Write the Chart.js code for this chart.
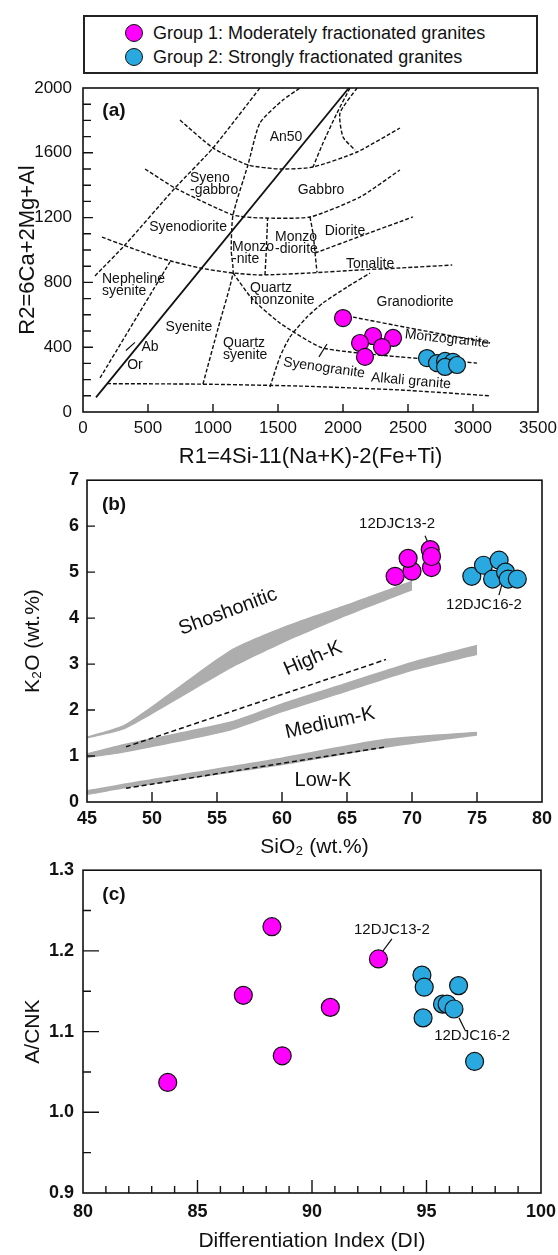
<!DOCTYPE html>
<html>
<head>
<meta charset="utf-8">
<title>Granite classification diagrams</title>
<script src="https://cdn.jsdelivr.net/npm/chart.js@4.4.1/dist/chart.umd.min.js"></script>
<style>
  body { margin: 0; background: #fff; font-family: "Liberation Sans", Arial, sans-serif; }
  #page { position: relative; width: 558px; height: 1255px; overflow: hidden; }
  canvas { position: absolute; left: 0; }
  #legend { position: absolute; left: 83px; top: 15px; width: 455px; height: 59px; box-sizing: border-box; border: 2px solid #222; }
  .item { position: absolute; left: 40px; height: 20px; font-size: 18px; line-height: 20px; color: #111; white-space: nowrap; }
  .dot { display: inline-block; width: 18px; height: 18px; border-radius: 50%; border: 1.3px solid #111; box-sizing: border-box; vertical-align: -3px; margin-right: 10px; }
</style>
</head>
<body>
<div id="page">
  <div id="legend">
    <div class="item" style="top:6px"><span class="dot" style="background:#FF00FF"></span>Group 1: Moderately fractionated granites</div>
    <div class="item" style="top:30px"><span class="dot" style="background:#29A9E0"></span>Group 2: Strongly fractionated granites</div>
  </div>
  <canvas id="chartA" width="558" height="395" style="top:75px"></canvas>
  <canvas id="chartB" width="558" height="390" style="top:470px"></canvas>
  <canvas id="chartC" width="558" height="395" style="top:860px"></canvas>
</div>
<script>
// ---------- (a) R1-R2 diagram ----------
const r1Group1 = [2000, 2231, 2385, 2131, 2300, 2169];
const r2Group1 = [580, 469, 457, 426, 401, 340];
const r1Group2 = [2646, 2723, 2785, 2846, 2785, 2877];
const r2Group2 = [333, 302, 315, 309, 278, 290];

// field boundaries, [R1, R2]
const bndSolid = [[100, 90], [2045, 2000]];
const bndBase = [[185, 175], [900, 172], [1670, 160], [2440, 136], [3130, 100]];
const bndNephUpper = [[92, 840], [323, 1031], [708, 1383], [1000, 1630], [1361, 2000]];
const bndNephRight = [[131, 210], [669, 926]];
const bndGabbroTop = [[746, 1802], [1000, 1630], [1269, 1525], [1515, 1500], [1769, 1512], [2108, 1605], [2438, 1753]];
const bndGabbroBase = [[477, 1500], [708, 1383], [1154, 1216], [1361, 1198], [1746, 1204], [2131, 1327], [2438, 1494]];
const bndMonzoBase = [[146, 1080], [308, 1031], [592, 950], [900, 889], [1154, 858], [1361, 846], [1746, 858], [2131, 877], [2438, 889], [2840, 907]];
const bndSyeniteRight = [[923, 173], [1040, 520], [1154, 858], [1140, 1000], [1154, 1216], [1269, 1525], [1361, 1784], [1538, 1926], [1669, 2000]];
const bndAn50Right = [[2054, 2000], [1954, 1846], [1846, 1660], [1769, 1512]];
const bndTopCurve = [[2108, 2000], [1977, 1846], [2000, 1698], [2092, 1617]];
const bndMonzoniteRight = [[1400, 846], [1410, 1000], [1420, 1198]];
const bndMonzodioriteRight = [[1746, 1204], [1770, 1100], [1785, 981], [1800, 862]];
const bndDioriteBase = [[1785, 981], [2150, 1090], [2538, 1204]];
const bndQzSyeniteTop = [[1154, 858], [1300, 700], [1515, 549], [1823, 401], [2054, 370], [2438, 340], [3031, 302]];
const bndGranodioriteLeft = [[1438, 154], [1515, 340], [1592, 463], [1723, 586], [1846, 673], [2031, 771], [2208, 858]];
const bndGranodioriteBase = [[2077, 586], [2500, 520], [3131, 426]];
const bndTick = [[1877, 420], [1815, 340]];
const bndAbMark = [[330, 380], [400, 430]];

// ---------- (b) K2O vs SiO2 ----------
const sio2Group1 = [68.7, 70.0, 69.7, 71.4, 71.5, 71.5];
const k2oGroup1 = [4.91, 5.02, 5.30, 5.49, 5.10, 5.34];
const sio2Group2 = [74.6, 75.5, 76.2, 76.7, 77.2, 77.4, 78.1];
const k2oGroup2 = [4.91, 5.15, 4.85, 5.26, 5.00, 4.85, 4.85];

const bandLowSi = [45, 48, 60, 68, 75];
const bandLowTop = [0.26, 0.41, 0.97, 1.38, 1.53];
const bandLowBot = [0.15, 0.30, 0.80, 1.18, 1.44];
const bandMidSi = [45, 48, 56, 60, 65, 70, 75];
const bandMidTop = [1.06, 1.27, 1.75, 2.15, 2.60, 3.05, 3.42];
const bandMidBot = [0.95, 1.08, 1.55, 1.95, 2.40, 2.85, 3.20];
const bandHighSi = [45, 48, 56, 60, 65, 70];
const bandHighTop = [1.42, 1.70, 3.30, 3.80, 4.30, 4.82];
const bandHighBot = [1.38, 1.60, 2.90, 3.45, 4.05, 4.60];
const dashHighK = [[48, 1.2], [68, 3.1]];
const dashLowK = [[48, 0.3], [68, 1.2]];

// ---------- (c) A/CNK vs DI ----------
const diGroup1 = [83.7, 87.0, 88.25, 88.7, 90.8, 92.9];
const acnkGroup1 = [1.037, 1.145, 1.23, 1.07, 1.13, 1.19];
const diGroup2 = [94.8, 94.9, 96.4, 95.7, 95.9, 96.2, 94.85, 97.1];
const acnkGroup2 = [1.170, 1.155, 1.157, 1.134, 1.134, 1.128, 1.117, 1.063];

const MAGENTA = '#FF00FF';
const BLUE = '#29A9E0';
const FONT = '"Liberation Sans", Arial, sans-serif';

const xy = (xs, ys) => xs.map((x, i) => ({x: x, y: ys[i]}));
const pairs = arr => arr.map(p => ({x: p[0], y: p[1]}));

function dashed(arr, dash, width) {
  return {type: 'line', data: pairs(arr), showLine: true, pointRadius: 0, borderColor: '#111',
    borderWidth: width || 1.4, borderDash: dash || [4, 2], tension: 0.2, fill: false, order: 5};
}
function solid(arr, width) {
  return {type: 'line', data: pairs(arr), showLine: true, pointRadius: 0, borderColor: '#111',
    borderWidth: width || 1.4, tension: 0, fill: false, order: 4};
}
function points(xs, ys, color, r) {
  return {data: xy(xs, ys), pointRadius: r, pointBackgroundColor: color, pointBorderColor: '#111',
    pointBorderWidth: 1.2, showLine: false, order: 0};
}
function band(xs, top, bot) {
  return [
    {type: 'line', data: xy(xs, top), showLine: true, pointRadius: 0, borderWidth: 0, borderColor: 'rgba(0,0,0,0)',
      backgroundColor: '#ADADAD', fill: '+1', tension: 0.2, order: 6},
    {type: 'line', data: xy(xs, bot), showLine: true, pointRadius: 0, borderWidth: 0, borderColor: 'rgba(0,0,0,0)',
      fill: false, tension: 0.2, order: 6}
  ];
}

// box + inward ticks
function framePlugin(o) {
  return {
    id: 'frame',
    afterDatasetsDraw(chart) {
      const {ctx, chartArea: a, scales: {x, y}} = chart;
      ctx.save();
      ctx.strokeStyle = '#111';
      ctx.lineWidth = 1.6;
      ctx.strokeRect(a.left, a.top, a.right - a.left, a.bottom - a.top);
      ctx.lineWidth = 1.4;
      ctx.beginPath();
      const nx = Math.round((x.max - x.min) / o.xMinor);
      for (let i = 1; i < nx; i++) {
        const v = x.min + i * o.xMinor;
        const major = Math.abs(v / o.xMajor - Math.round(v / o.xMajor)) < 1e-6;
        const px = x.getPixelForValue(v);
        ctx.moveTo(px, a.bottom);
        ctx.lineTo(px, a.bottom - (major ? o.xMajorLen : o.xMinorLen));
      }
      const ny = Math.round((y.max - y.min) / o.yMinor);
      for (let i = 1; i < ny; i++) {
        const v = y.min + i * o.yMinor;
        const major = Math.abs(v / o.yMajor - Math.round(v / o.yMajor)) < 1e-6;
        const py = y.getPixelForValue(v);
        ctx.moveTo(a.left, py);
        ctx.lineTo(a.left + (major ? o.yMajorLen : o.yMinorLen), py);
      }
      ctx.stroke();
      ctx.restore();
    }
  };
}

// text labels placed in data units
function textPlugin(items, defSize) {
  return {
    id: 'texts',
    afterDatasetsDraw(chart) {
      const {ctx, scales: {x, y}} = chart;
      ctx.save();
      ctx.fillStyle = '#111';
      items.forEach(it => {
        const size = it.size || defSize;
        ctx.font = (it.bold ? 'bold ' : '') + size + 'px ' + FONT;
        ctx.textAlign = it.align || 'center';
        ctx.textBaseline = 'middle';
        const lines = Array.isArray(it.t) ? it.t : [it.t];
        const lh = size * 0.9;
        ctx.save();
        ctx.translate(x.getPixelForValue(it.x), y.getPixelForValue(it.y));
        ctx.rotate((it.rot || 0) * Math.PI / 180);
        lines.forEach((s, i) => ctx.fillText(s, 0, (i - (lines.length - 1) / 2) * lh));
        ctx.restore();
      });
      ctx.restore();
    }
  };
}

function fixBox(w, h) {
  return function (s) {
    if (w !== null) s.width = w;
    if (h !== null) s.height = h;
    s.paddingLeft = 0; s.paddingRight = 0; s.paddingTop = 0; s.paddingBottom = 0;
  };
}

Chart.defaults.font.family = FONT;
Chart.defaults.color = '#111';
Chart.defaults.animation = false;

const labelsA = [
  {t: '(a)', x: 238, y: 1858, bold: true, size: 19},
  {t: 'An50', x: 1562, y: 1698},
  {t: ['Syeno', '-gabbro'], x: 823, y: 1407, align: 'left'},
  {t: 'Gabbro', x: 1831, y: 1370},
  {t: 'Syenodiorite', x: 808, y: 1142},
  {t: 'Diorite', x: 2015, y: 1117},
  {t: ['Monzo', '-diorite'], x: 1477, y: 1043, align: 'left'},
  {t: ['Monzo', '-nite'], x: 1146, y: 981, align: 'left'},
  {t: 'Tonalite', x: 2208, y: 910},
  {t: ['Nepheline', 'syenite'], x: 146, y: 784, align: 'left'},
  {t: ['Quartz', 'monzonite'], x: 1285, y: 728, align: 'left'},
  {t: 'Granodiorite', x: 2554, y: 679},
  {t: 'Syenite', x: 815, y: 525},
  {t: ['Quartz', 'syenite'], x: 1077, y: 389, align: 'left'},
  {t: 'Ab', x: 515, y: 401},
  {t: 'Or', x: 400, y: 290},
  {t: 'Monzogranite', x: 2800, y: 451, rot: 6},
  {t: 'Syenogranite', x: 1854, y: 272, rot: 8},
  {t: 'Alkali granite', x: 2523, y: 191, rot: 5}
];

new Chart(document.getElementById('chartA'), {
  type: 'scatter',
  data: {
    datasets: [
      points(r1Group1, r2Group1, MAGENTA, 8.5),
      points(r1Group2, r2Group2, BLUE, 8.5),
      solid(bndSolid, 1.8),
      solid(bndTick, 1.2),
      solid(bndAbMark, 1.2),
      dashed(bndBase), dashed(bndNephUpper), dashed(bndNephRight), dashed(bndGabbroTop),
      dashed(bndGabbroBase), dashed(bndMonzoBase), dashed(bndSyeniteRight), dashed(bndAn50Right),
      dashed(bndTopCurve), dashed(bndMonzoniteRight), dashed(bndMonzodioriteRight), dashed(bndDioriteBase),
      dashed(bndQzSyeniteTop), dashed(bndGranodioriteLeft), dashed(bndGranodioriteBase)
    ]
  },
  options: {
    responsive: false,
    layout: {padding: {top: 13, right: 20, left: 0, bottom: 0}},
    plugins: {legend: {display: false}, tooltip: {enabled: false}},
    scales: {
      x: {
        min: 0, max: 3500,
        ticks: {stepSize: 500, padding: 6, font: {size: 17}, callback: v => String(v)},
        grid: {display: false, drawTicks: false}, border: {display: false},
        title: {display: true, text: 'R1=4Si-11(Na+K)-2(Fe+Ti)', font: {size: 22, lineHeight: 1}, padding: {top: 0, bottom: 2}},
        afterFit: fixBox(null, 58)
      },
      y: {
        min: 0, max: 2000,
        ticks: {stepSize: 400, padding: 11, font: {size: 17}, callback: v => String(v)},
        grid: {display: false, drawTicks: false}, border: {display: false},
        title: {display: true, text: 'R2=6Ca+2Mg+Al', font: {size: 22, lineHeight: 1}, padding: {top: 17, bottom: 0}},
        afterFit: fixBox(83, null)
      }
    }
  },
  plugins: [framePlugin({xMinor: 500, xMajor: 500, xMajorLen: 8, xMinorLen: 8, yMinor: 100, yMajor: 400, yMajorLen: 10, yMinorLen: 8}),
            textPlugin(labelsA, 14)]
});

const labelsB = [
  {t: '(b)', x: 47.08, y: 6.46, bold: true, size: 19},
  {t: 'Shoshonitic', x: 55.85, y: 4.14, rot: -20.6},
  {t: 'High-K', x: 62.38, y: 3.12, rot: -23},
  {t: 'Medium-K', x: 63.69, y: 1.72, rot: -12.5},
  {t: 'Low-K', x: 63.15, y: 0.47},
  {t: '12DJC13-2', x: 68.85, y: 6.05, size: 15},
  {t: '12DJC16-2', x: 75.54, y: 4.29, size: 15}
];

new Chart(document.getElementById('chartB'), {
  type: 'scatter',
  data: {
    datasets: [
      points(sio2Group1, k2oGroup1, MAGENTA, 9),
      points(sio2Group2, k2oGroup2, BLUE, 9),
      solid([[71.0, 5.79], [71.38, 5.54]], 1.2),
      solid([[76.92, 4.74], [76.69, 4.5]], 1.2),
      dashed(dashHighK, [5, 3], 1.5),
      dashed(dashLowK, [5, 3], 1.5),
      ...band(bandLowSi, bandLowTop, bandLowBot),
      ...band(bandMidSi, bandMidTop, bandMidBot),
      ...band(bandHighSi, bandHighTop, bandHighBot)
    ]
  },
  options: {
    responsive: false,
    layout: {padding: {top: 7, right: 16, left: 0, bottom: 0}},
    plugins: {legend: {display: false}, tooltip: {enabled: false}},
    scales: {
      x: {
        min: 45, max: 80,
        ticks: {stepSize: 5, padding: 6, font: {size: 18, weight: 'bold'}},
        grid: {display: false, drawTicks: false}, border: {display: false},
        title: {display: true, text: 'SiO\u2082 (wt.%)', font: {size: 21, lineHeight: 1}, padding: {top: 0, bottom: 2}},
        afterFit: fixBox(null, 58)
      },
      y: {
        min: 0, max: 7,
        ticks: {stepSize: 1, padding: 8, font: {size: 18, weight: 'bold'}},
        grid: {display: false, drawTicks: false}, border: {display: false},
        title: {display: true, text: 'K\u2082O (wt.%)', font: {size: 21, lineHeight: 1}, padding: {top: 23, bottom: 0}},
        afterFit: fixBox(87, null)
      }
    }
  },
  plugins: [framePlugin({xMinor: 5, xMajor: 5, xMajorLen: 10, xMinorLen: 10, yMinor: 1, yMajor: 1, yMajorLen: 8, yMinorLen: 8}),
            textPlugin(labelsB, 20)]
});

const labelsC = [
  {t: '(c)', x: 81.35, y: 1.269, bold: true, size: 19},
  {t: '12DJC13-2', x: 93.49, y: 1.226, size: 15},
  {t: '12DJC16-2', x: 96.99, y: 1.0946, size: 15}
];

new Chart(document.getElementById('chartC'), {
  type: 'scatter',
  data: {
    datasets: [
      points(diGroup1, acnkGroup1, MAGENTA, 9),
      points(diGroup2, acnkGroup2, BLUE, 9),
      solid([[93.49, 1.215], [93.1, 1.2]], 1.2),
      solid([[96.42, 1.117], [96.68, 1.102]], 1.2)
    ]
  },
  options: {
    responsive: false,
    layout: {padding: {top: 8, right: 17, left: 0, bottom: 0}},
    plugins: {legend: {display: false}, tooltip: {enabled: false}},
    scales: {
      x: {
        min: 80, max: 100,
        ticks: {stepSize: 5, padding: 8, font: {size: 18, weight: 'bold'}},
        grid: {display: false, drawTicks: false}, border: {display: false},
        title: {display: true, text: 'Differentiation Index (DI)', font: {size: 21, lineHeight: 1}, padding: {top: 0, bottom: 3}},
        afterFit: fixBox(null, 62)
      },
      y: {
        min: 0.9, max: 1.3,
        ticks: {stepSize: 0.1, padding: 9, font: {size: 18, weight: 'bold'}, callback: v => v.toFixed(1)},
        grid: {display: false, drawTicks: false}, border: {display: false},
        title: {display: true, text: 'A/CNK', font: {size: 21, lineHeight: 1}, padding: {top: 23, bottom: 0}},
        afterFit: fixBox(83, null)
      }
    }
  },
  plugins: [framePlugin({xMinor: 1, xMajor: 5, xMajorLen: 13, xMinorLen: 7, yMinor: 0.05, yMajor: 0.1, yMajorLen: 16, yMinorLen: 8}),
            textPlugin(labelsC, 15)]
});
</script>
</body>
</html>
